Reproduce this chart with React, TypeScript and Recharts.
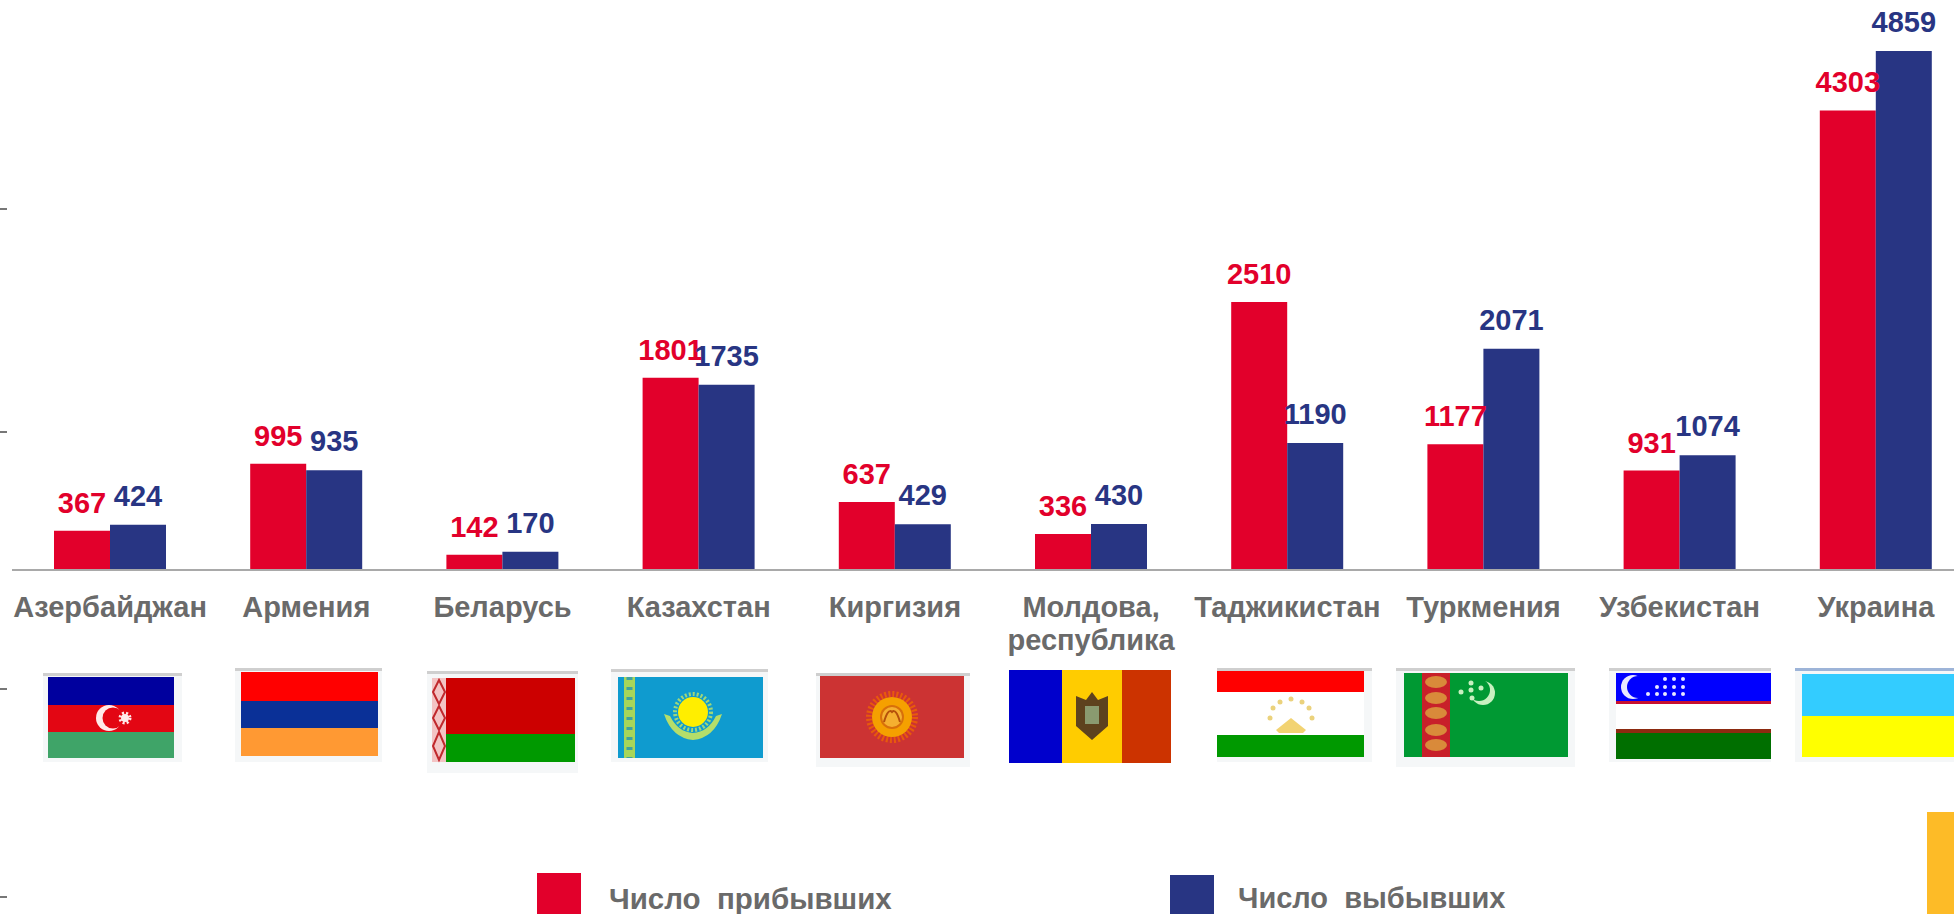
import { BarChart, Bar, XAxis, YAxis, Legend, LabelList } from "recharts";

const countries = [
  "Азербайджан",
  "Армения",
  "Беларусь",
  "Казахстан",
  "Киргизия",
  "Молдова, республика",
  "Таджикистан",
  "Туркмения",
  "Узбекистан",
  "Украина",
];
const arrived = [367, 995, 142, 1801, 637, 336, 2510, 1177, 931, 4303];
const departed = [424, 935, 170, 1735, 429, 430, 1190, 2071, 1074, 4859];

const data = countries.map((name, i) => ({ name, arrived: arrived[i], departed: departed[i] }));

const RED = "#E2002B";
const BLUE = "#283583";
const GREY = "#6A6A6A";
const FONT = "'Liberation Sans', Arial, sans-serif";

function CountryTick({ x, y, payload }: any) {
  // "Молдова, республика" goes on two lines
  const lines = String(payload.value).replace(", ", ",\n").split("\n");
  return (
    <text x={x} textAnchor="middle" fontFamily={FONT} fontWeight="bold" fontSize={29} fill={GREY}>
      {lines.map((line, i) => (
        <tspan key={i} x={x} y={y + 45 + i * 33}>
          {line}
        </tspan>
      ))}
    </text>
  );
}

function LegendBlock({ payload }: any) {
  const spots: any = {
    arrived: { box: 537, text: 609, top: 873, size: 29.5 },
    departed: { box: 1170, text: 1238, top: 875, size: 29 },
  };
  return (
    <div style={{ position: "absolute", left: 0, top: 0 }}>
      {(payload || []).map((p: any) => {
        const s = spots[p.dataKey];
        return (
          <div key={p.dataKey}>
            <div style={{ position: "absolute", left: s.box, top: s.top, width: 44, height: 914 - s.top, background: p.color }} />
            <div
              style={{
                position: "absolute",
                left: s.text,
                top: 882,
                whiteSpace: "pre",
                font: `bold ${s.size}px ${FONT}`,
                color: GREY,
              }}
            >
              {p.value}
            </div>
          </div>
        );
      })}
    </div>
  );
}

function Frame({ x, y, w, h }: { x: number; y: number; w: number; h: number }) {
  return (
    <>
      <rect x={x} y={y} width={w} height={h} fill="#F5F7F8" />
      <rect x={x} y={y} width={w} height={3} fill="#CFCFCF" />
    </>
  );
}

function Dots({ points, r, fill }: { points: number[][]; r: number; fill: string }) {
  return (
    <>
      {points.map(([cx, cy], i) => (
        <circle key={i} cx={cx} cy={cy} r={r} fill={fill} />
      ))}
    </>
  );
}

// a sun with short rays, made with a dashed ring
function Rays({ cx, cy, r, w, dash, color }: { cx: number; cy: number; r: number; w: number; dash: string; color: string }) {
  return <circle cx={cx} cy={cy} r={r} fill="none" stroke={color} strokeWidth={w} strokeDasharray={dash} />;
}

function Flags() {
  return (
    <svg width={1954} height={914} style={{ position: "absolute", left: 0, top: 0, pointerEvents: "none" }}>
      {/* small marks on the left edge */}
      {[209, 432, 689, 897].map((y) => (
        <rect key={y} x={0} y={y - 1} width={7} height={2} fill="#777" />
      ))}
      {/* yellow block, bottom right */}
      <rect x={1927} y={812} width={27} height={102} fill="#FDBB27" />

      {/* Азербайджан */}
      <Frame x={43} y={673} w={139} h={89} />
      <rect x={48} y={677} width={126} height={28} fill="#00009E" />
      <rect x={48} y={705} width={126} height={27} fill="#E30613" />
      <rect x={48} y={732} width={126} height={26} fill="#3FA468" />
      <circle cx={109} cy={718} r={13} fill="#FFE9E9" />
      <circle cx={113} cy={718} r={10.5} fill="#E30613" />
      <circle cx={125} cy={718} r={4} fill="#FFE9E9" />
      <Rays cx={125} cy={718} r={5} w={3} dash="2 2" color="#FFE9E9" />

      {/* Армения */}
      <Frame x={235} y={668} w={147} h={94} />
      <rect x={241} y={672} width={137} height={29} fill="#FF0000" />
      <rect x={241} y={701} width={137} height={27} fill="#0A3097" />
      <rect x={241} y={728} width={137} height={28} fill="#FF9933" />

      {/* Беларусь */}
      <Frame x={427} y={671} w={151} h={102} />
      <rect x={432} y={678} width={14} height={84} fill="#F3C4C4" />
      <path
        d="M439 680 L445 692 L439 704 L433 692 Z M439 706 L445 718 L439 730 L433 718 Z M439 732 L445 746 L439 760 L433 746 Z"
        fill="none"
        stroke="#C0282C"
        strokeWidth={2}
      />
      <rect x={446} y={678} width={129} height={56} fill="#CC0000" />
      <rect x={446} y={734} width={129} height={28} fill="#009900" />

      {/* Казахстан */}
      <Frame x={611} y={669} w={157} h={93} />
      <rect x={618} y={677} width={145} height={81} fill="#0F9BCF" />
      <rect x={624} y={677} width={11} height={81} fill="#A8D65A" />
      <line x1={629.5} y1={677} x2={629.5} y2={758} stroke="#3FA2A0" strokeWidth={6} strokeDasharray="3 7" />
      <Rays cx={693} cy={712} r={18} w={4} dash="2 2" color="#9ED77C" />
      <circle cx={693} cy={712} r={15} fill="#FFEE00" />
      <path d="M664 714 Q672 738 693 740 Q714 738 722 714 L716 716 Q708 732 693 733 Q678 732 670 716 Z" fill="#B5DE6A" />

      {/* Киргизия */}
      <Frame x={816} y={673} w={154} h={94} />
      <rect x={820} y={676} width={144} height={82} fill="#CC3333" />
      <Rays cx={892} cy={717} r={23} w={6} dash="2 2" color="#E85A0C" />
      <circle cx={892} cy={717} r={20} fill="#F5A000" />
      <circle cx={892} cy={717} r={12} fill="#D8700A" />
      <circle cx={892} cy={717} r={10} fill="#F5B030" />
      <path d="M884 722 Q888 708 892 712 Q896 708 900 722" fill="none" stroke="#B5500A" strokeWidth={2} />

      {/* Молдова */}
      <rect x={1009} y={670} width={53} height={93} fill="#0000CC" />
      <rect x={1062} y={670} width={60} height={93} fill="#FFCC00" />
      <rect x={1122} y={670} width={49} height={93} fill="#CC3300" />
      <path d="M1092 692 L1098 700 L1108 696 L1108 726 L1092 740 L1076 726 L1076 696 L1086 700 Z" fill="#5E421E" />
      <rect x={1085} y={706} width={14} height={18} fill="#8A9A70" />

      {/* Таджикистан */}
      <Frame x={1217} y={668} w={155} h={94} />
      <rect x={1217} y={671} width={147} height={21} fill="#FF0000" />
      <rect x={1217} y={692} width={147} height={43} fill="#FFFFFF" />
      <rect x={1217} y={735} width={147} height={22} fill="#009900" />
      <Dots
        r={2.5}
        fill="#EBD27C"
        points={[[1270, 718], [1273, 708], [1280, 702], [1291, 699], [1302, 702], [1309, 708], [1312, 718]]}
      />
      <path d="M1276 730 L1291 718 L1306 730 L1303 733 L1279 733 Z" fill="#F2D372" />

      {/* Туркмения */}
      <Frame x={1396} y={668} w={179} h={99} />
      <rect x={1404} y={673} width={164} height={84} fill="#009933" />
      <rect x={1422} y={673} width={28} height={84} fill="#C8202A" />
      {[682, 698, 713, 730, 745].map((cy) => (
        <ellipse key={cy} cx={1436} cy={cy} rx={11} ry={6} fill="#D98A3A" />
      ))}
      <circle cx={1483} cy={693} r={12} fill="#C8F0C0" />
      <circle cx={1479} cy={690} r={11} fill="#009933" />
      <Dots
        r={2.5}
        fill="#C8F0C0"
        points={[[1461, 692], [1471, 683], [1471, 690], [1481, 688], [1472, 698]]}
      />

      {/* Узбекистан */}
      <Frame x={1609} y={668} w={162} h={94} />
      <rect x={1616} y={673} width={155} height={28} fill="#0000FF" />
      <rect x={1616} y={701} width={155} height={3} fill="#C81030" />
      <rect x={1616} y={704} width={155} height={25} fill="#FFFFFF" />
      <rect x={1616} y={729} width={155} height={4} fill="#8C2A10" />
      <rect x={1616} y={733} width={155} height={26} fill="#006F00" />
      <circle cx={1633} cy={687} r={12} fill="#E8E8FF" />
      <circle cx={1638} cy={687} r={11} fill="#0000FF" />
      <Dots
        r={2}
        fill="#E8E8FF"
        points={[
          [1665, 679], [1674, 679], [1683, 679],
          [1657, 687], [1665, 687], [1674, 687], [1683, 687],
          [1648, 694], [1657, 694], [1665, 694], [1674, 694], [1683, 694],
        ]}
      />

      {/* Украина */}
      <rect x={1795} y={668} width={159} height={94} fill="#F5F7F8" />
      <rect x={1795} y={668} width={159} height={3} fill="#9DB4D8" />
      <rect x={1802} y={674} width={152} height={42} fill="#33CCFF" />
      <rect x={1802} y={716} width={152} height={41} fill="#FFFF00" />
    </svg>
  );
}

export default function App() {
  return (
    <div style={{ position: "absolute", left: 0, top: 0, width: 1954, height: 914, overflow: "hidden", background: "#fff" }}>
      <BarChart
        width={1974}
        height={914}
        data={data}
        margin={{ top: 0, right: 0, bottom: 0, left: 12 }}
        barSize={56}
        barGap={0}
      >
        <XAxis
          dataKey="name"
          height={344}
          interval={0}
          tickLine={false}
          tickSize={0}
          tick={<CountryTick />}
          axisLine={{ stroke: "#A9A9A9", strokeWidth: 2 }}
        />
        <YAxis hide domain={[0, 5337]} />
        <Legend content={<LegendBlock />} wrapperStyle={{ left: 0, top: 0, bottom: "auto", width: 1954, height: 0 }} />
        <Bar dataKey="arrived" name="Число  прибывших" fill={RED} isAnimationActive={false}>
          <LabelList
            dataKey="arrived"
            position="top"
            offset={18}
            fill={RED}
            style={{ fontFamily: FONT, fontWeight: "bold", fontSize: 29 }}
          />
        </Bar>
        <Bar dataKey="departed" name="Число  выбывших" fill={BLUE} isAnimationActive={false}>
          <LabelList
            dataKey="departed"
            position="top"
            offset={19}
            fill={BLUE}
            style={{ fontFamily: FONT, fontWeight: "bold", fontSize: 29 }}
          />
        </Bar>
      </BarChart>
      <Flags />
    </div>
  );
}
